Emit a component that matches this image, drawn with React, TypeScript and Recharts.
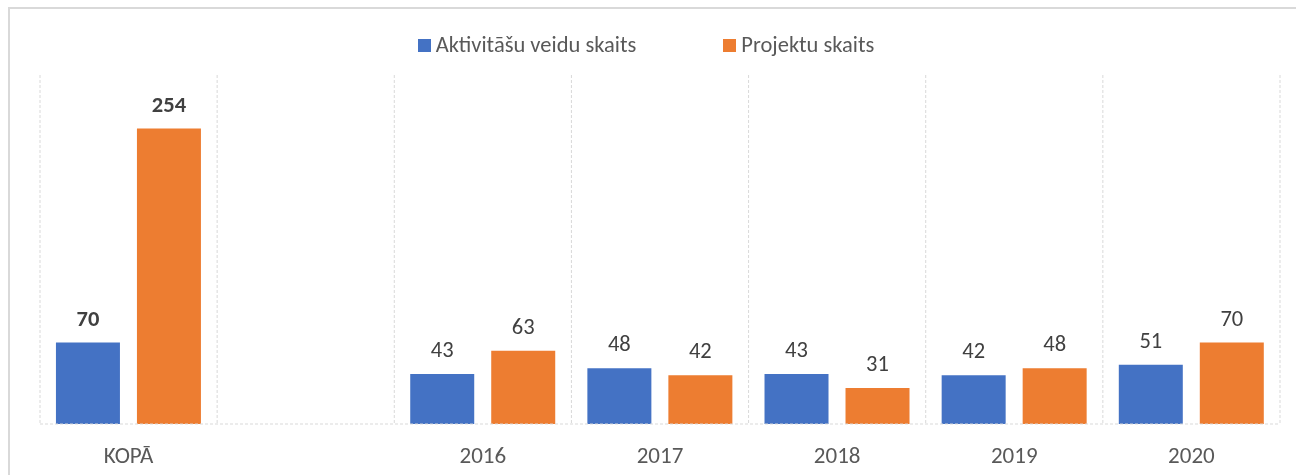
import React from "react";
import { BarChart, Bar, XAxis, YAxis, CartesianGrid, LabelList } from "recharts";

const categories = ["KOPĀ", "", "2016", "2017", "2018", "2019", "2020"];
const activityCounts: (number | null)[] = [70, null, 43, 48, 43, 42, 51];
const projectCounts: (number | null)[] = [254, null, 63, 42, 31, 48, 70];
const seriesNames = ["Aktivitāšu veidu skaits", "Projektu skaits"];
const seriesColors = ["#4472C4", "#ED7D31"];

const data = categories.map((c, i) => ({
  name: c,
  a: activityCounts[i],
  p: projectCounts[i],
}));

const FONT = "Carlito, Lato, 'Open Sans', sans-serif";

const makeLabel = (props: any) => {
  const { x, y, width, value, index } = props;
  if (value === null || value === undefined) return null;
  return (
    <text
      x={x + width / 2}
      y={y - 17}
      textAnchor="middle"
      fill="#404040"
      fontFamily={FONT}
      fontSize={22.5}
      fontWeight={index === 0 ? 700 : 400}
    >
      {value}
    </text>
  );
};

const Tick = (props: any) => {
  const { x, y, payload } = props;
  return (
    <text x={x} y={y + 39} textAnchor="middle" fill="#595959" fontFamily={FONT} fontSize={23}>
      {payload.value}
    </text>
  );
};

const LegendBox = () => (
  <div
    style={{
      position: "absolute",
      left: 0,
      top: 24,
      width: 1288,
      display: "flex",
      justifyContent: "center",
      marginLeft: -6,
      boxSizing: "border-box",
      gap: 87,
      fontFamily: FONT,
      fontSize: 22.5,
      color: "#595959",
      lineHeight: "26px",
    }}
  >
    {seriesNames.map((n, i) => (
      <div key={n} style={{ display: "flex", alignItems: "center" }}>
        <span
          style={{
            display: "inline-block",
            width: 13,
            height: 13,
            background: seriesColors[i],
            marginRight: 5,
          }}
        />
        <span>{n}</span>
      </div>
    ))}
  </div>
);

export default function App() {
  return (
    <div style={{ position: "relative", width: 1288, height: 467, marginBottom: -8 }}>
      <div
        style={{
          position: "fixed",
          left: 8,
          top: 7,
          right: 0,
          bottom: 0,
          borderTop: "2px solid #d9d9d9",
          borderLeft: "2px solid #d9d9d9",
        }}
      />
      <div style={{ position: "absolute", left: 0, top: 0 }}>
        <BarChart
          width={1288}
          height={467}
          data={data}
          margin={{ top: 67, right: 16, left: 32, bottom: 0 }}
          barCategoryGap="9%"
          barGap={17}
        >
          <CartesianGrid
            horizontal={false}
            stroke="#d9d9d9"
            strokeDasharray="3 2"
            verticalCoordinatesGenerator={({ offset }: any) =>
              Array.from({ length: categories.length + 1 }, (_, i) => offset.left + (i * offset.width) / categories.length)
            }
          />
          <XAxis
            dataKey="name"
            tickLine={false}
            tickSize={0}
            tickMargin={0}
            height={51}
            axisLine={{ stroke: "#d9d9d9", strokeDasharray: "3 2" }}
            tick={<Tick />}
            interval={0}
          />
          <YAxis hide domain={[0, 300]} />
          <Bar dataKey="a" name={seriesNames[0]} fill={seriesColors[0]} isAnimationActive={false}>
            <LabelList dataKey="a" content={makeLabel} />
          </Bar>
          <Bar dataKey="p" name={seriesNames[1]} fill={seriesColors[1]} isAnimationActive={false}>
            <LabelList dataKey="p" content={makeLabel} />
          </Bar>
        </BarChart>
      </div>
      <LegendBox />
    </div>
  );
}
